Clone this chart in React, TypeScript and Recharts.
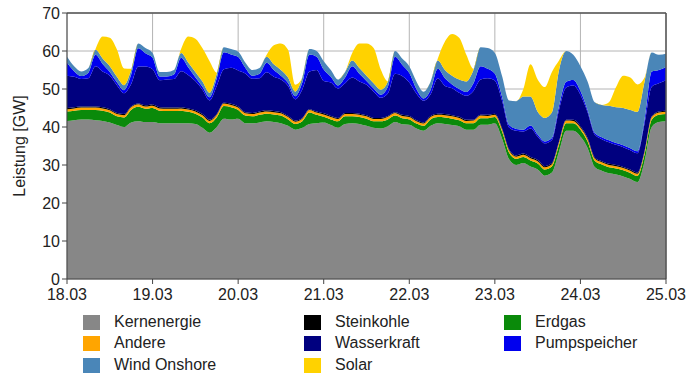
import React from 'react';
import { AreaChart, Area, XAxis, YAxis, CartesianGrid, ReferenceLine } from 'recharts';

// one value every 2 hours, 18.03 00:00 .. 25.03 00:00
const dayLabels = ['18.03', '19.03', '20.03', '21.03', '22.03', '23.03', '24.03', '25.03'];
const yTicks = [0, 10, 20, 30, 40, 50, 60, 70];

const kernenergie = [
  41.6, 41.8, 42.0, 42.0, 41.8, 41.6, 41.2, 40.5, 40.0, 41.2, 41.5, 41.3,
  41.3, 41.0, 41.0, 41.0, 41.0, 41.0, 40.8, 39.8, 38.5, 40.0, 42.2, 42.0,
  42.2, 41.0, 41.0, 41.2, 41.5, 41.3, 41.0, 40.3, 39.3, 39.8, 40.8, 41.0,
  41.2, 40.5, 39.8, 40.8, 41.0, 40.8, 40.3, 39.8, 39.6, 40.2, 41.3, 40.7,
  40.6, 39.6, 39.0, 40.3, 41.0, 40.8, 40.5, 40.2, 39.3, 39.3, 40.6, 40.6,
  41.0, 37.0, 31.5, 30.0, 30.5, 29.6, 28.8, 27.2, 28.0, 33.5, 39.0, 39.0,
  37.5, 34.5, 29.5, 28.5, 27.8, 27.5, 27.0, 26.3, 25.5, 31.0, 40.0, 41.3,
  41.5,
];

const erdgas = [
  2.5, 2.5, 2.5, 2.5, 2.7, 2.7, 2.6, 2.3, 2.5, 3.3, 3.8, 3.5,
  3.7, 3.3, 3.2, 3.2, 3.3, 3.0, 2.7, 2.7, 2.5, 2.5, 3.3, 3.2,
  2.3, 2.0, 1.8, 2.0, 2.0, 2.0, 2.0, 1.7, 1.5, 1.7, 3.0, 2.2,
  1.5, 1.5, 1.7, 2.0, 1.8, 1.8, 1.9, 1.7, 1.9, 1.8, 1.7, 1.6,
  1.4, 1.3, 1.3, 1.7, 1.6, 1.7, 1.7, 1.6, 1.7, 1.7, 1.7, 1.7,
  1.6, 1.8, 1.7, 1.6, 1.6, 1.6, 1.6, 1.6, 1.6, 1.8, 2.0, 2.0,
  1.8, 1.7, 1.6, 1.6, 1.6, 1.6, 1.6, 1.6, 1.6, 1.8, 1.9, 1.9,
  1.9,
];

const andere = [
  0.6, 0.6, 0.6, 0.6, 0.6, 0.6, 0.6, 0.6, 0.6, 0.7, 0.7, 0.6,
  0.6, 0.6, 0.6, 0.6, 0.6, 0.6, 0.6, 0.6, 0.6, 0.7, 0.7, 0.6,
  0.6, 0.6, 0.6, 0.6, 0.6, 0.6, 0.6, 0.6, 0.6, 0.7, 0.7, 0.6,
  0.6, 0.6, 0.6, 0.6, 0.6, 0.6, 0.6, 0.6, 0.6, 0.7, 0.7, 0.6,
  0.6, 0.6, 0.6, 0.6, 0.6, 0.6, 0.6, 0.6, 0.6, 0.7, 0.7, 0.6,
  0.6, 0.6, 0.6, 0.6, 0.6, 0.6, 0.6, 0.6, 0.6, 0.7, 0.7, 0.6,
  0.6, 0.6, 0.6, 0.6, 0.6, 0.6, 0.6, 0.6, 0.6, 0.7, 0.7, 0.6,
  0.6,
];

const steinkohle = [
  0.3, 0.3, 0.3, 0.3, 0.3, 0.3, 0.3, 0.3, 0.3, 0.2, 0.2, 0.3,
  0.3, 0.3, 0.3, 0.3, 0.3, 0.3, 0.3, 0.3, 0.3, 0.2, 0.2, 0.3,
  0.3, 0.3, 0.3, 0.3, 0.3, 0.3, 0.3, 0.3, 0.3, 0.2, 0.2, 0.3,
  0.3, 0.3, 0.3, 0.3, 0.3, 0.3, 0.3, 0.3, 0.3, 0.2, 0.2, 0.3,
  0.3, 0.3, 0.3, 0.3, 0.3, 0.3, 0.3, 0.3, 0.3, 0.2, 0.2, 0.3,
  0.3, 0.3, 0.3, 0.3, 0.3, 0.3, 0.3, 0.3, 0.3, 0.2, 0.2, 0.3,
  0.3, 0.3, 0.3, 0.3, 0.3, 0.3, 0.3, 0.3, 0.3, 0.2, 0.2, 0.3,
  0.3,
];

const wasserkraft = [
  8.5, 8.0, 7.2, 7.4, 10.6, 9.4, 8.8, 7.3, 5.5, 5.9, 9.7, 10.2,
  9.3, 7.1, 7.4, 7.5, 9.5, 8.8, 7.7, 6.4, 5.1, 7.4, 8.8, 9.5,
  9.5, 10.2, 9.0, 8.7, 10.0, 9.0, 8.6, 7.9, 5.6, 7.5, 9.9, 10.9,
  8.5, 8.8, 7.7, 7.8, 9.3, 8.5, 8.0, 6.9, 5.3, 5.9, 10.1, 10.2,
  8.8, 7.0, 5.7, 5.7, 9.3, 7.4, 7.1, 6.3, 6.3, 7.6, 9.3, 9.6,
  8.7, 7.3, 5.8, 6.5, 5.8, 7.5, 6.2, 6.0, 6.1, 8.3, 8.5, 9.0,
  8.3, 6.8, 6.0, 5.8, 5.7, 5.3, 5.2, 5.1, 5.1, 7.3, 7.8, 7.4,
  8.0,
];

const pumpspeicher = [
  3.5, 1.5, 0.8, 1.5, 3.0, 2.0, 1.0, 0.8, 0.8, 2.5, 4.8, 3.5,
  3.0, 1.0, 0.8, 1.2, 3.5, 2.0, 1.0, 0.8, 0.8, 2.0, 4.5, 3.5,
  3.5, 1.5, 0.8, 1.2, 2.5, 1.8, 1.0, 0.8, 0.8, 1.8, 4.5, 3.5,
  3.0, 1.5, 0.8, 1.5, 3.0, 2.0, 1.0, 0.8, 0.8, 1.8, 4.5, 3.0,
  2.5, 1.2, 0.6, 1.2, 2.5, 2.0, 1.0, 1.0, 1.0, 2.0, 3.5, 2.5,
  1.8, 1.0, 0.6, 0.5, 0.5, 0.8, 0.5, 0.5, 0.5, 1.0, 1.5, 1.5,
  1.0, 0.6, 0.5, 0.5, 0.5, 0.5, 0.5, 0.5, 0.5, 1.0, 4.0, 3.5,
  3.5,
];

const windOnshore = [
  1.5, 1.3, 1.2, 1.2, 1.3, 1.4, 1.5, 1.4, 1.3, 1.2, 1.3, 1.4,
  1.3, 1.2, 1.2, 1.2, 1.3, 1.3, 1.4, 1.4, 1.2, 1.2, 1.3, 1.4,
  1.4, 1.4, 1.5, 1.5, 1.6, 1.5, 1.5, 1.4, 1.2, 1.3, 1.4, 1.5,
  2.2, 1.8, 1.6, 1.5, 1.5, 1.5, 1.4, 1.4, 1.3, 1.4, 1.5, 1.6,
  1.8, 2.0, 1.8, 2.2, 2.2, 2.2, 2.3, 2.5, 2.8, 3.5, 5.0, 5.5,
  5.5, 5.5, 6.5, 7.3, 8.7, 7.6, 6.0, 6.2, 6.7, 9.5, 8.1, 6.6,
  6.5, 7.5, 8.0, 8.5, 9.1, 9.4, 9.8, 10.1, 10.4, 10.0, 5.0, 4.0,
  3.5,
];

const solar = [
  0, 0, 0, 0, 0.2, 5.8, 7.5, 7.2, 4.4, 0.3, 0, 0,
  0, 0, 0, 0, 1.0, 6.8, 8.7, 8.7, 8.3, 0.3, 0, 0,
  0, 0, 0, 0, 0.5, 5.0, 7.0, 7.3, 1.8, 0, 0, 0,
  0, 0, 0, 0, 2.0, 6.5, 8.5, 9.3, 5.3, 0, 0, 0,
  0, 0, 0, 0, 0.5, 7.5, 11.0, 11.0, 7.0, 0.3, 0, 0,
  0, 0, 0, 0, 2.0, 8.5, 8.5, 8.1, 10.7, 2.5, 0, 0,
  0, 0, 0, 0, 0.9, 5.3, 8.5, 8.5, 7.2, 1.0, 0, 0,
  0,
];

const data = kernenergie.map((v, i) => ({
  hour: i * 2,
  kern: v,
  erdgas: erdgas[i],
  andere: andere[i],
  steinkohle: steinkohle[i],
  wasser: wasserkraft[i],
  pump: pumpspeicher[i],
  wind: windOnshore[i],
  solar: solar[i],
}));

// bottom to top
const series = [
  { key: 'kern', name: 'Kernenergie', color: '#878787' },
  { key: 'erdgas', name: 'Erdgas', color: '#0a8a0a' },
  { key: 'andere', name: 'Andere', color: '#ffa500' },
  { key: 'steinkohle', name: 'Steinkohle', color: '#000000' },
  { key: 'wasser', name: 'Wasserkraft', color: '#00007f' },
  { key: 'pump', name: 'Pumpspeicher', color: '#0000ee' },
  { key: 'wind', name: 'Wind Onshore', color: '#4a86b8' },
  { key: 'solar', name: 'Solar', color: '#ffd200' },
];

const legendColumns = [
  { left: 83, items: ['kern', 'andere', 'wind'] },
  { left: 304, items: ['steinkohle', 'wasser', 'solar'] },
  { left: 504, items: ['erdgas', 'pump'] },
];
const legendRows = [322, 343, 365];

const font = '"Liberation Sans", Arial, sans-serif';

export default function App() {
  return (
    <div
      style={{
        position: 'absolute',
        left: 0,
        top: 0,
        width: 686,
        height: 374,
        background: '#fff',
        fontFamily: font,
        color: '#222',
      }}
    >
      <AreaChart
        width={686}
        height={310}
        data={data}
        margin={{ top: 13, right: 20, left: 0, bottom: 0 }}
      >
        <CartesianGrid stroke="#b4b4b4" strokeWidth={1} />
        <XAxis
          dataKey="hour"
          type="number"
          domain={[0, 168]}
          ticks={[0, 24, 48, 72, 96, 120, 144, 168]}
          tickFormatter={(h: number) => dayLabels[h / 24]}
          height={31}
          stroke="#444"
          tick={{ fill: '#222', fontSize: 16, fontFamily: font }}
          tickSize={5}
          tickMargin={5}
          interval={0}
        />
        <YAxis
          domain={[0, 70]}
          ticks={yTicks}
          width={67}
          stroke="#444"
          tick={{ fill: '#222', fontSize: 16, fontFamily: font }}
          tickSize={5}
          interval={0}
        />
        {series.map((s) => (
          <Area
            key={s.key}
            dataKey={s.key}
            name={s.name}
            stackId="1"
            type="monotone"
            stroke="none"
            fill={s.color}
            fillOpacity={1}
            isAnimationActive={false}
          />
        ))}
        <ReferenceLine y={70} stroke="#555" strokeWidth={1.5} />
        <ReferenceLine x={168} stroke="#555" strokeWidth={1.5} />
      </AreaChart>

      <div
        style={{
          position: 'absolute',
          left: 20,
          top: 146,
          transform: 'translate(-50%, -50%) rotate(-90deg)',
          fontSize: 16,
          whiteSpace: 'nowrap',
        }}
      >
        Leistung [GW]
      </div>

      {legendColumns.map((col) =>
        col.items.map((key, row) => {
          const s = series.find((x) => x.key === key)!;
          return (
            <div
              key={key}
              style={{
                position: 'absolute',
                left: col.left,
                top: legendRows[row] - 9,
                height: 18,
                display: 'flex',
                alignItems: 'center',
                fontSize: 16,
                whiteSpace: 'nowrap',
              }}
            >
              <span
                style={{
                  display: 'inline-block',
                  width: 17,
                  height: 15,
                  background: s.color,
                  marginRight: 14,
                }}
              />
              {s.name}
            </div>
          );
        })
      )}
    </div>
  );
}
